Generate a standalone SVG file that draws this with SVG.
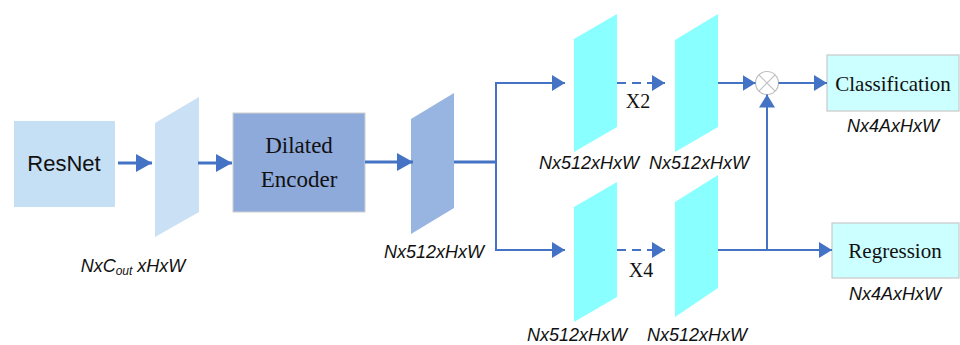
<svg xmlns="http://www.w3.org/2000/svg" width="960" height="345" viewBox="0 0 960 345">
<style>
.lbl{font-family:"Liberation Sans",Arial,sans-serif;font-style:italic;font-size:18px;fill:#111;text-anchor:middle}
.ser{font-family:"Liberation Serif","Times New Roman",serif;fill:#111;text-anchor:middle}
.main{stroke:#4472c4;stroke-width:3;fill:none}
.br{stroke:#4472c4;stroke-width:2;fill:none}
.dash{stroke:#4472c4;stroke-width:2;fill:none;stroke-dasharray:9 6}
.cyan{fill:#8affff}
</style>
<defs>
<marker id="big" markerUnits="userSpaceOnUse" markerWidth="16" markerHeight="18" refX="16" refY="9" orient="auto">
<path d="M0,0 L16,9 L0,18 Z" fill="#4472c4"/>
</marker>
<marker id="sm" markerUnits="userSpaceOnUse" markerWidth="13" markerHeight="16" refX="13" refY="8" orient="auto">
<path d="M0,0 L13,8 L0,16 Z" fill="#4472c4"/>
</marker>
</defs>
<rect width="960" height="345" fill="#fff"/>

<g id="resnet">
<rect x="14" y="121" width="101" height="86" fill="#c5dff5"/>
<text x="64" y="171" font-family="Liberation Sans,Arial,sans-serif" font-size="22" text-anchor="middle" fill="#111">ResNet</text>
</g>
<g id="feat0">
<polygon points="155,123 199,97 199,212 155,237" fill="#c9e0f5"/>
<text class="lbl" x="133" y="272">NxC<tspan font-size="12" dy="3">out</tspan><tspan dy="-3"> xHxW</tspan></text>
</g>
<g id="encoder">
<rect x="233" y="113" width="132" height="99" fill="#8eaadb" stroke="#d0d0d0" stroke-width="1"/>
<text class="ser" x="299" y="153" font-size="23">Dilated</text>
<text class="ser" x="299" y="187" font-size="23">Encoder</text>
</g>
<g id="feat1">
<polygon points="411,119 454,93 454,208 411,234" fill="#98b4e0"/>
<text class="lbl" x="434" y="258">Nx512xHxW</text>
</g>
<g id="cls1">
<polygon class="cyan" points="574,39 617,14 617,127 574,152"/>
<text class="lbl" x="589" y="169">Nx512xHxW</text>
</g>
<g id="cls2">
<polygon class="cyan" points="675,40 718,14 718,127 675,152"/>
<text class="lbl" x="699" y="169">Nx512xHxW</text>
</g>
<g id="reg1">
<polygon class="cyan" points="574,207 617,182 617,297 574,322"/>
<text class="lbl" x="577" y="341">Nx512xHxW</text>
</g>
<g id="reg2">
<polygon class="cyan" points="675,202 718,175 718,288 675,317"/>
<text class="lbl" x="697" y="341">Nx512xHxW</text>
</g>
<g id="mult">
<circle cx="767" cy="83" r="11.5" fill="#fff" stroke="#bfbfbf" stroke-width="1.2"/>
<path d="M758.9,74.9 L775.1,91.1 M775.1,74.9 L758.9,91.1" stroke="#bfbfbf" stroke-width="1.2"/>
</g>
<g id="classification">
<rect x="827" y="55" width="132" height="56" fill="#ccffff" stroke="#c8c8c8" stroke-width="1.2"/>
<text class="ser" x="893" y="91" font-size="21">Classification</text>
<text class="lbl" x="893" y="132">Nx4AxHxW</text>
</g>
<g id="regression">
<rect x="832" y="223" width="127" height="55" fill="#ccffff" stroke="#c8c8c8" stroke-width="1.2"/>
<text class="ser" x="895" y="258" font-size="21">Regression</text>
<text class="lbl" x="895" y="300">Nx4AxHxW</text>
</g>

<g id="connectors">
<line class="main" x1="118" y1="163" x2="152" y2="163" marker-end="url(#big)"/>
<line class="main" x1="198" y1="163" x2="232" y2="163" marker-end="url(#big)"/>
<line class="main" x1="365" y1="162" x2="413" y2="162" marker-end="url(#big)"/>
<line class="main" x1="454" y1="162" x2="496" y2="162"/>
<polyline class="br" points="565,83 496,83 496,250 565,250"/>
<line class="br" x1="555" y1="83" x2="565" y2="83" marker-end="url(#sm)"/>
<line class="br" x1="555" y1="250" x2="565" y2="250" marker-end="url(#sm)"/>
<line class="dash" x1="617" y1="83" x2="665" y2="83" marker-end="url(#sm)"/>
<line class="dash" x1="617" y1="250" x2="665" y2="250" marker-end="url(#sm)"/>
<line class="br" x1="718" y1="83" x2="755.5" y2="83" marker-end="url(#sm)"/>
<line class="br" x1="778.5" y1="83" x2="827" y2="83" marker-end="url(#sm)"/>
<line class="br" x1="718" y1="250" x2="832" y2="250" marker-end="url(#sm)"/>
<line class="br" x1="767" y1="250" x2="767" y2="94.5" marker-end="url(#sm)"/>
<text class="ser" x="638" y="108" font-size="20">X2</text>
<text class="ser" x="641" y="277" font-size="20">X4</text>
</g>
</svg>
